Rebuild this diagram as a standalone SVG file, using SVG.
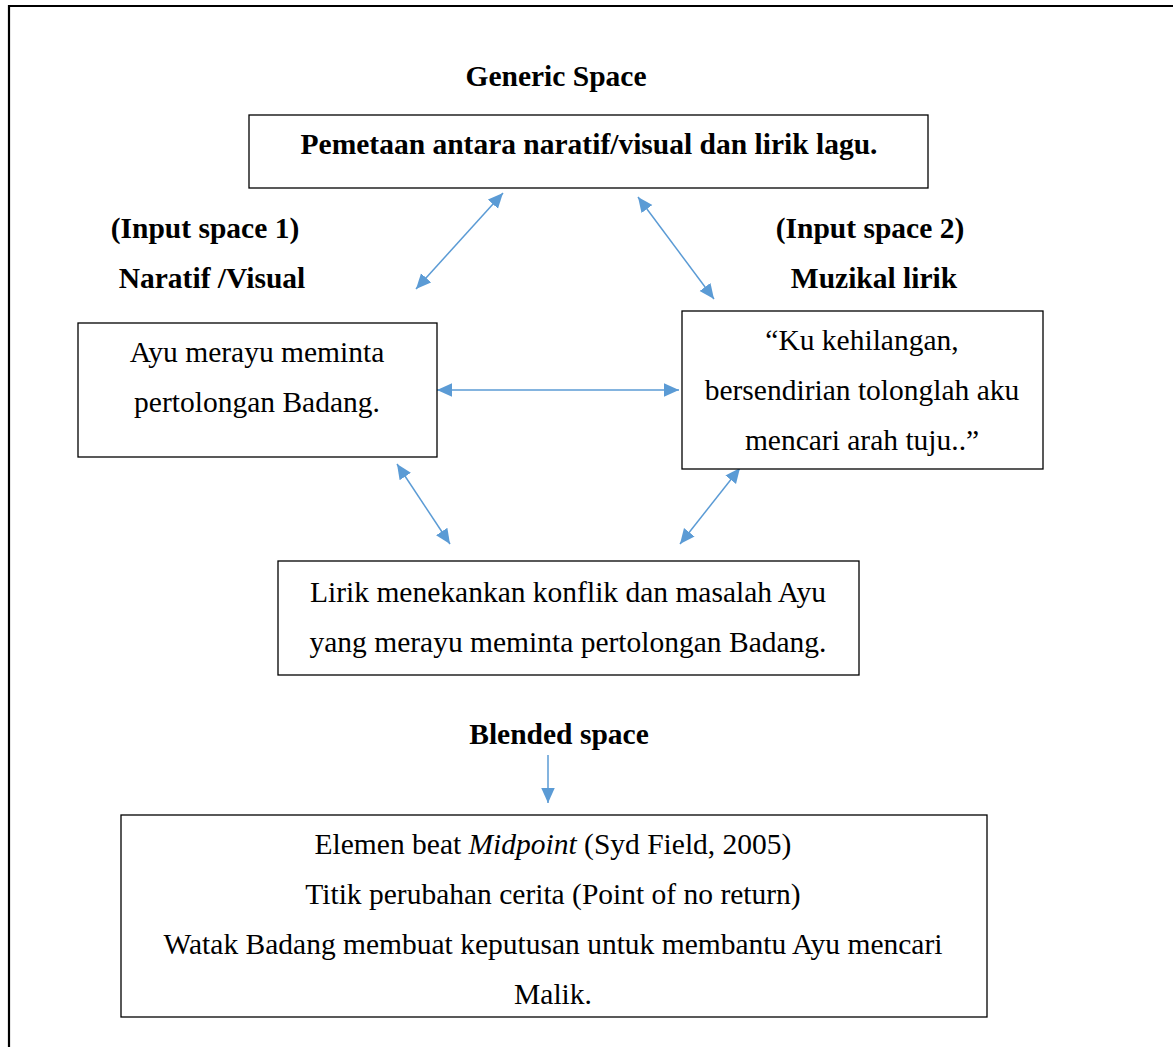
<svg xmlns="http://www.w3.org/2000/svg" width="1173" height="1047" viewBox="0 0 1173 1047">
<style>
text{font-family:"Liberation Serif","Times New Roman",serif;font-size:29.5px;fill:#000;text-anchor:middle}
.b{font-weight:bold}
.box{fill:#fff;stroke:#000;stroke-width:1.3}
.c{stroke:#5B9BD5;stroke-width:1.5;fill:none;marker-start:url(#ah);marker-end:url(#ah)}
.d{stroke:#5B9BD5;stroke-width:1.5;fill:none;marker-end:url(#ah)}
</style>
<defs>
<marker id="ah" viewBox="0 0 10 10" refX="10" refY="5" markerWidth="15" markerHeight="15" markerUnits="userSpaceOnUse" orient="auto-start-reverse">
<path d="M0,0.5 L10,5 L0,9.5 z" fill="#5B9BD5"/>
</marker>
</defs>
<rect width="1173" height="1047" fill="#fff"/>
<path d="M9,1047 V6 H1173" fill="none" stroke="#000" stroke-width="2.2"/>
<g id="connectors">
<path class="c" d="M503,193 L416,289"/>
<path class="c" d="M638,197 L714,299"/>
<path class="c" d="M437,390 L679,390"/>
<path class="c" d="M397,464 L450,544"/>
<path class="c" d="M740,468 L680,544"/>
<path class="d" d="M548,755 L548,803"/>
</g>
<g id="label-generic"><text class="b" x="556" y="86">Generic Space</text></g>
<g id="generic"><rect class="box" x="249" y="115" width="679" height="73"/><text class="b" x="589" y="154">Pemetaan antara naratif/visual dan lirik lagu.</text></g>
<g id="label-input1"><text class="b" x="205" y="238">(Input space 1)</text><text class="b" x="212" y="288">Naratif /Visual</text></g>
<g id="label-input2"><text class="b" x="870" y="238">(Input space 2)</text><text class="b" x="874" y="288">Muzikal lirik</text></g>
<g id="input1"><rect class="box" x="78" y="323" width="359" height="134"/><text x="257" y="362">Ayu merayu meminta</text><text x="257" y="412">pertolongan Badang.</text></g>
<g id="input2"><rect class="box" x="682" y="311" width="361" height="158"/><text x="862" y="350">“Ku kehilangan,</text><text x="862" y="400">bersendirian tolonglah aku</text><text x="862" y="450">mencari arah tuju..”</text></g>
<g id="blend"><rect class="box" x="278" y="561" width="581" height="114"/><text x="568" y="602">Lirik menekankan konflik dan masalah Ayu</text><text x="568" y="652">yang merayu meminta pertolongan Badang.</text></g>
<g id="label-blended"><text class="b" x="559" y="744">Blended space</text></g>
<g id="result"><rect class="box" x="121" y="815" width="866" height="202"/>
<text x="553" y="854">Elemen beat <tspan font-style="italic">Midpoint</tspan> (Syd Field, 2005)</text>
<text x="553" y="904">Titik perubahan cerita (Point of no return)</text>
<text x="553" y="954">Watak Badang membuat keputusan untuk membantu Ayu mencari</text>
<text x="553" y="1004">Malik.</text></g>
</svg>
